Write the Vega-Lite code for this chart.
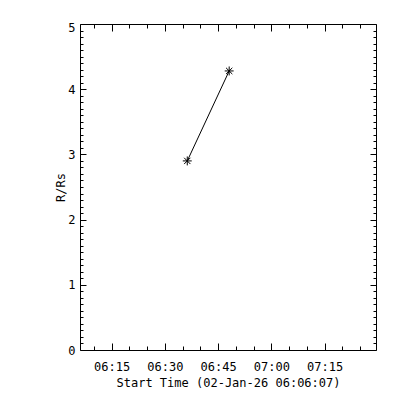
{
  "$schema": "https://vega.github.io/schema/vega-lite/v6.json",
  "width": 296,
  "height": 326,
  "autosize": {"type": "none"},
  "padding": {"left": 80, "top": 24, "right": 24, "bottom": 50},
  "background": "white",
  "config": {
    "view": {"stroke": "black", "strokeWidth": 1},
    "axis": {
      "labelFont": "DejaVu Sans Mono",
      "titleFont": "DejaVu Sans Mono",
      "labelFontSize": 12,
      "titleFontSize": 12,
      "titleFontWeight": "normal",
      "labelColor": "black",
      "titleColor": "black",
      "tickColor": "black",
      "tickWidth": 1,
      "grid": false,
      "domain": false
    }
  },
  "data": {
    "values": [
      {"time": "2026-01-02T06:36:19Z", "r": 2.9},
      {"time": "2026-01-02T06:48:07Z", "r": 4.28}
    ]
  },
  "layer": [
    {
      "mark": {"type": "line", "color": "black", "strokeWidth": 1},
      "encoding": {
        "x": {
          "field": "time", "type": "temporal",
          "scale": {"type": "utc", "nice": false, "domain": [
            {"year": 2026, "month": 1, "date": 2, "hours": 6, "minutes": 6, "seconds": 7, "utc": true},
            {"year": 2026, "month": 1, "date": 2, "hours": 7, "minutes": 29, "seconds": 27, "utc": true}
          ]},
          "axis": {
            "orient": "bottom", "ticks": false, "labelPadding": 16, "labelBaseline": "middle",
            "labelFlush": false,
            "labelExpr": "utcFormat(datum.value, '%H:%M')",
            "values": [
              {"year": 2026, "month": 1, "date": 2, "hours": 6, "minutes": 15, "utc": true},
              {"year": 2026, "month": 1, "date": 2, "hours": 6, "minutes": 30, "utc": true},
              {"year": 2026, "month": 1, "date": 2, "hours": 6, "minutes": 45, "utc": true},
              {"year": 2026, "month": 1, "date": 2, "hours": 7, "minutes": 0, "utc": true},
              {"year": 2026, "month": 1, "date": 2, "hours": 7, "minutes": 15, "utc": true}
            ],
            "title": "Start Time (02-Jan-26 06:06:07)",
            "titleX": 148, "titleY": 32, "titleBaseline": "middle", "titleAlign": "center"
          }
        },
        "y": {
          "field": "r", "type": "quantitative",
          "scale": {"domain": [0, 5], "nice": false, "zero": false},
          "axis": {
            "orient": "left", "ticks": false, "labelPadding": 5, "labelBaseline": "middle",
            "labelFlush": false, "values": [0, 1, 2, 3, 4, 5], "format": "d",
            "labelOffset": {"condition": {"test": "datum.value == 5", "value": 3}, "value": 0},
            "title": "R/Rs", "titleX": -20, "titleY": 163, "titleAngle": 270,
            "titleBaseline": "middle", "titleAlign": "center"
          }
        }
      }
    },
    {
      "mark": {
        "type": "point",
        "shape": "M-1,0L1,0M0,-1L0,1M-0.7,-0.7L0.7,0.7M-0.7,0.7L0.7,-0.7",
        "filled": false, "stroke": "black", "strokeWidth": 1, "size": 80, "opacity": 1
      },
      "encoding": {
        "x": {
          "field": "time", "type": "temporal",
          "scale": {"type": "utc", "nice": false, "domain": [
            {"year": 2026, "month": 1, "date": 2, "hours": 6, "minutes": 6, "seconds": 7, "utc": true},
            {"year": 2026, "month": 1, "date": 2, "hours": 7, "minutes": 29, "seconds": 27, "utc": true}
          ]},
          "axis": {
            "orient": "bottom", "labels": false, "title": null,
            "tickSize": {"condition": {"test": "utcminutes(datum.value) % 15 == 0", "value": -7}, "value": -4},
            "values": [
              {"year": 2026, "month": 1, "date": 2, "hours": 6, "minutes": 10, "utc": true},
              {"year": 2026, "month": 1, "date": 2, "hours": 6, "minutes": 15, "utc": true},
              {"year": 2026, "month": 1, "date": 2, "hours": 6, "minutes": 20, "utc": true},
              {"year": 2026, "month": 1, "date": 2, "hours": 6, "minutes": 25, "utc": true},
              {"year": 2026, "month": 1, "date": 2, "hours": 6, "minutes": 30, "utc": true},
              {"year": 2026, "month": 1, "date": 2, "hours": 6, "minutes": 35, "utc": true},
              {"year": 2026, "month": 1, "date": 2, "hours": 6, "minutes": 40, "utc": true},
              {"year": 2026, "month": 1, "date": 2, "hours": 6, "minutes": 45, "utc": true},
              {"year": 2026, "month": 1, "date": 2, "hours": 6, "minutes": 50, "utc": true},
              {"year": 2026, "month": 1, "date": 2, "hours": 6, "minutes": 55, "utc": true},
              {"year": 2026, "month": 1, "date": 2, "hours": 7, "minutes": 0, "utc": true},
              {"year": 2026, "month": 1, "date": 2, "hours": 7, "minutes": 5, "utc": true},
              {"year": 2026, "month": 1, "date": 2, "hours": 7, "minutes": 10, "utc": true},
              {"year": 2026, "month": 1, "date": 2, "hours": 7, "minutes": 15, "utc": true},
              {"year": 2026, "month": 1, "date": 2, "hours": 7, "minutes": 20, "utc": true},
              {"year": 2026, "month": 1, "date": 2, "hours": 7, "minutes": 25, "utc": true}
            ]
          }
        },
        "y": {
          "field": "r", "type": "quantitative",
          "scale": {"domain": [0, 5], "nice": false, "zero": false},
          "axis": {
            "orient": "left", "labels": false, "title": null,
            "tickSize": {"condition": {"test": "abs(datum.value - round(datum.value)) < 0.01", "value": -6}, "value": -3},
            "values": [0, 0.1, 0.2, 0.3, 0.4, 0.5, 0.6, 0.7, 0.8, 0.9, 1, 1.1, 1.2, 1.3, 1.4, 1.5, 1.6, 1.7, 1.8, 1.9, 2, 2.1, 2.2, 2.3, 2.4, 2.5, 2.6, 2.7, 2.8, 2.9, 3, 3.1, 3.2, 3.3, 3.4, 3.5, 3.6, 3.7, 3.8, 3.9, 4, 4.1, 4.2, 4.3, 4.4, 4.5, 4.6, 4.7, 4.8, 4.9, 5]
          }
        }
      }
    },
    {
      "mark": {"type": "point", "opacity": 0},
      "encoding": {
        "x": {
          "field": "time", "type": "temporal",
          "scale": {"type": "utc", "nice": false, "domain": [
            {"year": 2026, "month": 1, "date": 2, "hours": 6, "minutes": 6, "seconds": 7, "utc": true},
            {"year": 2026, "month": 1, "date": 2, "hours": 7, "minutes": 29, "seconds": 27, "utc": true}
          ]},
          "axis": {
            "orient": "top", "labels": false, "title": null,
            "tickSize": {"condition": {"test": "utcminutes(datum.value) % 15 == 0", "value": -7}, "value": -4},
            "values": [
              {"year": 2026, "month": 1, "date": 2, "hours": 6, "minutes": 10, "utc": true},
              {"year": 2026, "month": 1, "date": 2, "hours": 6, "minutes": 15, "utc": true},
              {"year": 2026, "month": 1, "date": 2, "hours": 6, "minutes": 20, "utc": true},
              {"year": 2026, "month": 1, "date": 2, "hours": 6, "minutes": 25, "utc": true},
              {"year": 2026, "month": 1, "date": 2, "hours": 6, "minutes": 30, "utc": true},
              {"year": 2026, "month": 1, "date": 2, "hours": 6, "minutes": 35, "utc": true},
              {"year": 2026, "month": 1, "date": 2, "hours": 6, "minutes": 40, "utc": true},
              {"year": 2026, "month": 1, "date": 2, "hours": 6, "minutes": 45, "utc": true},
              {"year": 2026, "month": 1, "date": 2, "hours": 6, "minutes": 50, "utc": true},
              {"year": 2026, "month": 1, "date": 2, "hours": 6, "minutes": 55, "utc": true},
              {"year": 2026, "month": 1, "date": 2, "hours": 7, "minutes": 0, "utc": true},
              {"year": 2026, "month": 1, "date": 2, "hours": 7, "minutes": 5, "utc": true},
              {"year": 2026, "month": 1, "date": 2, "hours": 7, "minutes": 10, "utc": true},
              {"year": 2026, "month": 1, "date": 2, "hours": 7, "minutes": 15, "utc": true},
              {"year": 2026, "month": 1, "date": 2, "hours": 7, "minutes": 20, "utc": true},
              {"year": 2026, "month": 1, "date": 2, "hours": 7, "minutes": 25, "utc": true}
            ]
          }
        },
        "y": {
          "field": "r", "type": "quantitative",
          "scale": {"domain": [0, 5], "nice": false, "zero": false},
          "axis": {
            "orient": "right", "labels": false, "title": null,
            "tickSize": {"condition": {"test": "abs(datum.value - round(datum.value)) < 0.01", "value": -6}, "value": -3},
            "values": [0, 0.1, 0.2, 0.3, 0.4, 0.5, 0.6, 0.7, 0.8, 0.9, 1, 1.1, 1.2, 1.3, 1.4, 1.5, 1.6, 1.7, 1.8, 1.9, 2, 2.1, 2.2, 2.3, 2.4, 2.5, 2.6, 2.7, 2.8, 2.9, 3, 3.1, 3.2, 3.3, 3.4, 3.5, 3.6, 3.7, 3.8, 3.9, 4, 4.1, 4.2, 4.3, 4.4, 4.5, 4.6, 4.7, 4.8, 4.9, 5]
          }
        }
      }
    }
  ],
  "resolve": {"axis": {"x": "independent", "y": "independent"}}
}
